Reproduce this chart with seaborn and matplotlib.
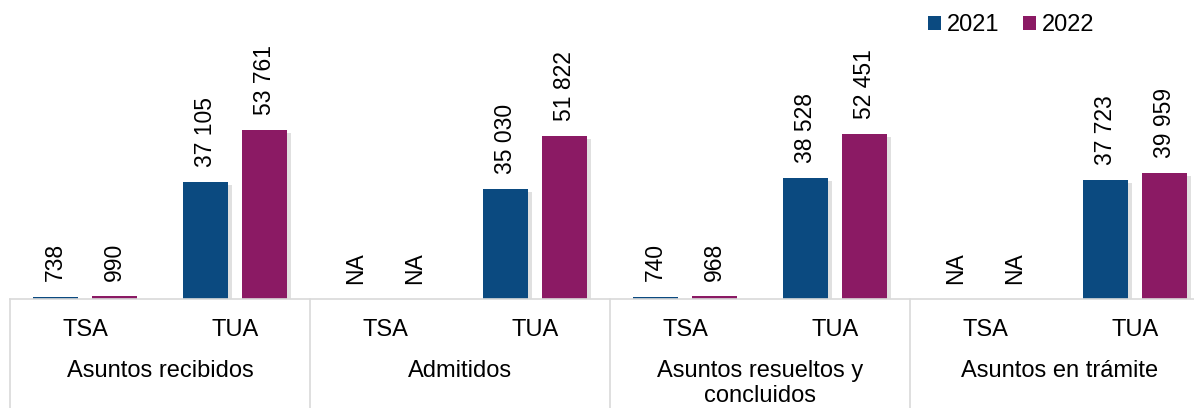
import matplotlib.pyplot as plt
import matplotlib.patheffects as pe
import matplotlib.transforms as mtransforms
import numpy as np
import pandas as pd
import seaborn as sns

# Datos
grupos = ['Asuntos recibidos', 'Admitidos', 'Asuntos resueltos y\nconcluidos', 'Asuntos en trámite']
tribunales = ['TSA', 'TUA']
anios = ['2021', '2022']
valores_2021 = [738, 37105, None, 35030, 740, 38528, None, 37723]
valores_2022 = [990, 53761, None, 51822, 968, 52451, None, 39959]
colores = ['#0b4a80', '#8b1a64']

claves = [g + ' ' + t for g in grupos for t in tribunales]
filas = []
for anio, vals in zip(anios, [valores_2021, valores_2022]):
    for clave, v in zip(claves, vals):
        filas.append({'clave': clave, 'anio': anio,
                      'valor': 0 if v is None else v,
                      'etiqueta': 'NA' if v is None else f'{v:,}'.replace(',', ' ')})
df = pd.DataFrame(filas)

sns.set_style('white')
plt.rcParams['font.family'] = ['Liberation Sans', 'DejaVu Sans']
plt.rcParams['text.color'] = 'black'

fig = plt.figure(figsize=(11.94, 4.08), dpi=100)
ax = fig.add_axes([10 / 1194, 109 / 408, 1200 / 1194, 299 / 408])

sns.barplot(data=df, x='clave', y='valor', hue='anio', order=claves,
            hue_order=anios, palette=colores, saturation=1, width=0.78,
            gap=0.23, errorbar=None, linewidth=0, ax=ax)

sombra = [pe.SimplePatchShadow(offset=(3, -2), shadow_rgbFace='#999999', alpha=0.3),
          pe.Normal()]
for cont, anio in zip(ax.containers, anios):
    for bar in cont:
        bar.set_path_effects(sombra)
    etiquetas = df.loc[df['anio'] == anio, 'etiqueta'].tolist()
    ax.bar_label(cont, labels=etiquetas, rotation=90, padding=11,
                 fontsize=16.5, color='black')

ax.set_xlim(-0.5, 7.5)
ax.set_ylim(0, 95100)
ax.set_xlabel('')
ax.set_ylabel('')
ax.set_yticks([])
ax.set_xticks(range(len(claves)))
ax.set_xticklabels(tribunales * len(grupos), fontsize=17, color='black')
ax.tick_params(axis='x', length=0, pad=14.5)
for lado in ['top', 'left', 'right']:
    ax.spines[lado].set_visible(False)
ax.spines['bottom'].set_color('#d9d9d9')
ax.spines['bottom'].set_linewidth(1.2)

# separadores y etiquetas de grupo
trans = mtransforms.blended_transform_factory(ax.transData, ax.transAxes)
for i, g in enumerate(grupos):
    ax.plot([2 * i - 0.5, 2 * i - 0.5], [0, -109 / 299], transform=trans,
            color='#d9d9d9', lw=1.2, clip_on=False)
    ax.text(2 * i + 0.5, -61 / 299, g, transform=trans, ha='center', va='top',
            fontsize=17, linespacing=1.2, color='black')

handles, labels = ax.get_legend_handles_labels()
ax.get_legend().remove()
fig.legend(handles, labels, loc='upper right',
           bbox_to_anchor=(1094 / 1194, 1 - 14 / 408), ncol=2, frameon=False,
           fontsize=17, handlelength=0.55, handleheight=0.55,
           handletextpad=0.25, columnspacing=1.0, borderaxespad=0,
           borderpad=0)

fig.savefig('out.png', dpi=100)
